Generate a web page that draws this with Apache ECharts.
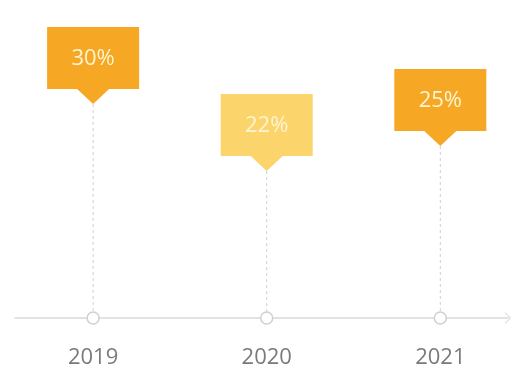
<!DOCTYPE html>
<html><head><meta charset="utf-8">
<script src="https://cdn.jsdelivr.net/npm/echarts@6/dist/echarts.min.js"></script>
<style>html,body{margin:0;padding:0;background:#fff}#c{width:512px;height:370px}</style>
</head><body><div id="c"></div>
<script>
const years = ['2019', '2020', '2021'];
const values = [30, 22, 25];
const boxColors = ['#F6A724', '#FCD46C', '#F6A724'];

const Y_MIN = 4.5;
const chart = echarts.init(document.getElementById('c'), null, {renderer: 'canvas'});
chart.setOption({
  animation: false,
  grid: {left: 15, right: 4, top: 20, bottom: 52},
  xAxis: {
    type: 'value', min: -0.45, max: 2.39,
    splitLine: {show: false},
    axisTick: {show: false},
    axisLine: {show: true, lineStyle: {color: '#d9d9d9', width: 1.5},
      symbol: ['none', 'path://M0,10 L10,0 L20,10 L18,10 L10,2 L2,10 Z'], symbolSize: [12, 7]},
    axisLabel: {customValues: [0, 1, 2], formatter: v => years[Math.round(v)] || '',
      color: '#7a7a7a', fontSize: 22, margin: 29, fontFamily: 'Open Sans'}
  },
  yAxis: {type: 'value', min: Y_MIN, max: 40, show: false},
  series: [{
    type: 'custom',
    data: values.map((v, i) => [i, v]),
    renderItem: function (params, api) {
      const i = api.value(0);
      const tip = api.coord([i, api.value(1)]);
      const base = api.coord([i, Y_MIN]);
      const tx = tip[0], ty = tip[1];
      const r = 6;
      return {
        type: 'group',
        children: [
          {type: 'line', shape: {x1: tx, y1: ty, x2: tx, y2: base[1] - r},
            style: {stroke: '#cfcfcf', lineWidth: 1, lineDash: [3, 3]}},
          {type: 'circle', shape: {cx: tx, cy: base[1], r: r},
            style: {fill: '#fff', stroke: '#d0d0d0', lineWidth: 1.5}},
          {type: 'polygon', shape: {points: [
            [tx - 46, ty - 77], [tx + 46, ty - 77], [tx + 46, ty - 15], [tx + 16, ty - 15],
            [tx, ty], [tx - 16, ty - 15], [tx - 46, ty - 15]]},
            style: {fill: boxColors[params.dataIndex]}},
          {type: 'text', style: {text: values[params.dataIndex] + '%', x: tx, y: ty - 45,
            align: 'center', verticalAlign: 'middle', fill: '#FFF4D2', fontSize: 22,
            fontFamily: 'Open Sans'}}
        ]
      };
    }
  }]
});
</script></body></html>
